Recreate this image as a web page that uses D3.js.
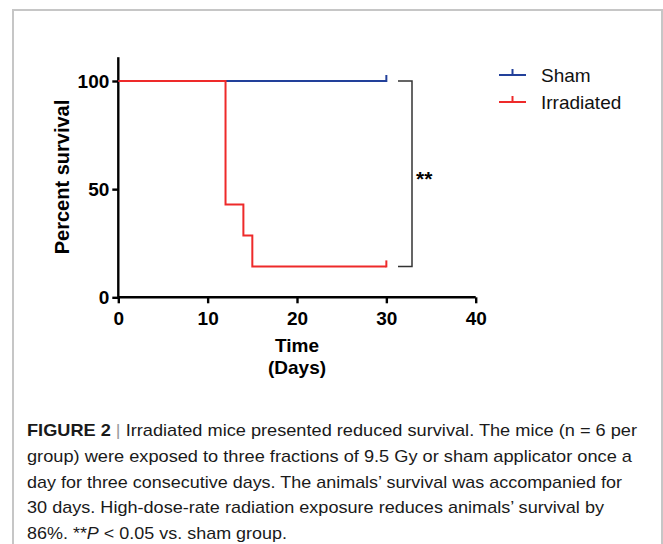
<!DOCTYPE html>
<meta charset="utf-8">
<script src="https://d3js.org/d3.v7.min.js"></script>
<style>
  body { margin: 0; background: #fff; }
  text { font-family: Arial, "Liberation Sans", sans-serif; }
</style>
<div id="chart"></div>
<script>

  // survival data (Kaplan-Meier steps)
  var shamDays = [0, 30];
  var shamSurvival = [100, 100];
  var irrDays = [0, 12, 14, 15, 30];
  var irrSurvival = [100, 42.86, 28.57, 14.29, 14.29];

  var xTicks = [0, 10, 20, 30, 40];
  var yTicks = [0, 50, 100];

  var seriesNames = ["Sham", "Irradiated"];
  var seriesColors = ["#22409a", "#ee2a2a"];

  var captionLines = [
    "group) were exposed to three fractions of 9.5 Gy or sham applicator once a",
    "day for three consecutive days. The animals\u2019 survival was accompanied for",
    "30 days. High-dose-rate radiation exposure reduces animals\u2019 survival by"
  ];

  var W = 663, H = 544;

  var svg = d3.select("#chart")
    .append("svg")
      .attr("width", W)
      .attr("height", H);

  // frame
  svg.append("path")
    .attr("d", "M13," + H + "V10H662V" + H)
    .attr("fill", "none")
    .attr("stroke", "#c6c6c6")
    .attr("stroke-width", 2);

  var x = d3.scaleLinear().domain([0, 40]).range([118.3, 475.7]);
  var y = d3.scaleLinear().domain([0, 111]).range([297.3, 57.2]);

  // X axis
  var xAxis = svg.append("g")
    .attr("transform", "translate(0," + y(0) + ")")
    .call(d3.axisBottom(x).tickValues(xTicks).tickSize(6).tickPadding(8));
  xAxis.select(".domain").attr("d", "M" + x(0) + ",0H" + x(40));

  // Y axis
  var yAxis = svg.append("g")
    .attr("transform", "translate(" + x(0) + ",0)")
    .call(d3.axisLeft(y).tickValues(yTicks).tickSize(6).tickPadding(3));
  yAxis.select(".domain").attr("d", "M0," + y(111) + "V" + y(0));

  svg.selectAll(".domain, .tick line")
    .attr("stroke", "#000")
    .attr("stroke-width", 2.4);
  svg.selectAll(".tick text")
    .attr("fill", "#000")
    .style("font-size", "19px")
    .style("font-weight", "bold");

  // survival curves
  var line = d3.line()
    .x(function(d) { return x(d[0]); })
    .y(function(d) { return y(d[1]); })
    .curve(d3.curveStepAfter);

  var series = [
    d3.zip(shamDays, shamSurvival),
    d3.zip(irrDays, irrSurvival)
  ];

  series.forEach(function(pts, i) {
    svg.append("path")
      .datum(pts)
      .attr("d", line)
      .attr("fill", "none")
      .attr("stroke", seriesColors[i])
      .attr("stroke-width", 2);
    // censor tick at end
    var last = pts[pts.length - 1];
    svg.append("line")
      .attr("x1", x(last[0])).attr("x2", x(last[0]))
      .attr("y1", y(last[1]) + 1).attr("y2", y(last[1]) - 6)
      .attr("stroke", seriesColors[i])
      .attr("stroke-width", 2);
  });

  // significance bracket
  var bx = 412;
  svg.append("path")
    .attr("d", "M398," + y(shamSurvival[1]) + "H" + bx + "V" + y(irrSurvival[4]) + "H398")
    .attr("fill", "none")
    .attr("stroke", "#333")
    .attr("stroke-width", 1.5);
  svg.append("text")
    .attr("x", 416)
    .attr("y", 186)
    .style("font-size", "21px")
    .style("font-weight", "bold")
    .text("**");

  // legend
  var legend = svg.selectAll(".legend")
    .data(seriesNames)
    .enter().append("g")
      .attr("transform", function(d, i) { return "translate(499," + (75 + i * 27) + ")"; });
  legend.append("line")
    .attr("x1", 0).attr("x2", 27)
    .attr("stroke", function(d, i) { return seriesColors[i]; })
    .attr("stroke-width", 2);
  legend.append("line")
    .attr("x1", 13.5).attr("x2", 13.5)
    .attr("y1", 0).attr("y2", -6)
    .attr("stroke", function(d, i) { return seriesColors[i]; })
    .attr("stroke-width", 2);
  legend.append("text")
    .attr("x", 42)
    .attr("y", 7)
    .style("font-size", "19px")
    .attr("fill", "#111")
    .text(function(d) { return d; });

  // axis labels
  svg.append("text")
    .attr("x", 297).attr("y", 352)
    .attr("text-anchor", "middle")
    .style("font-size", "19px")
    .style("font-weight", "bold")
    .text("Time");
  svg.append("text")
    .attr("x", 297).attr("y", 374)
    .attr("text-anchor", "middle")
    .style("font-size", "19px")
    .style("font-weight", "bold")
    .text("(Days)");
  svg.append("text")
    .attr("transform", "translate(69,177)rotate(-90)")
    .attr("text-anchor", "middle")
    .style("font-size", "20px")
    .style("font-weight", "bold")
    .text("Percent survival");

  // caption
  var cap = svg.append("g")
    .style("font-size", "17px")
    .style("font-family", "Roboto, Arial, sans-serif")
    .style("font-weight", "300")
    .attr("fill", "#1a1a1a");
  var first = cap.append("text")
    .attr("x", 27).attr("y", 436)
    .attr("textLength", 610).attr("lengthAdjust", "spacingAndGlyphs");
  first.append("tspan").style("font-weight", "bold").text("FIGURE 2");
  first.append("tspan").attr("fill", "#999").text(" | ");
  first.append("tspan").text("Irradiated mice presented reduced survival. The mice (n = 6 per");

  var widths = [605, 595, 577];
  captionLines.forEach(function(t, i) {
    cap.append("text")
      .attr("x", 27).attr("y", 462 + i * 25.6)
      .attr("textLength", widths[i]).attr("lengthAdjust", "spacingAndGlyphs")
      .text(t);
  });
  var lastLine = cap.append("text")
    .attr("x", 27).attr("y", 538.5)
    .attr("textLength", 260).attr("lengthAdjust", "spacingAndGlyphs");
  lastLine.append("tspan").text("86%. **");
  lastLine.append("tspan").style("font-style", "italic").text("P");
  lastLine.append("tspan").text(" < 0.05 vs. sham group.");

</script>
